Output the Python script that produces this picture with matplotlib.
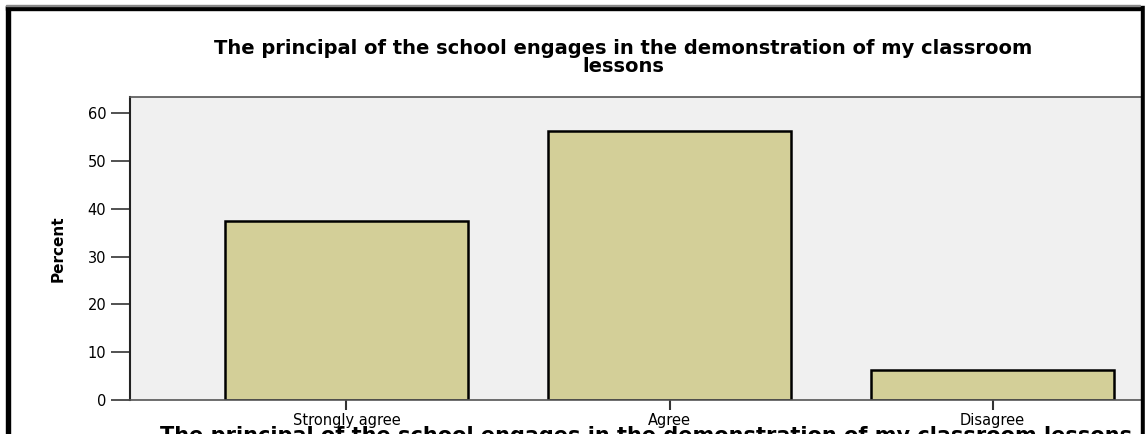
import matplotlib.pyplot as plt
from matplotlib.patches import Rectangle

# data
categories = ['Strongly agree', 'Agree', 'Disagree']
percent = [37.5, 56.25, 6.25]
yticks = [0, 10, 20, 30, 40, 50, 60]
title = 'The principal of the school engages in the demonstration of my classroom lessons'

W, H = 1146, 434
fig = plt.figure(figsize=(W / 100, H / 100), dpi=100)
fig.patch.set_facecolor('white')

# axes runs past the right edge of the figure (cropped like the original)
ax = fig.add_axes([130 / W, (H - 400) / H, 1079 / W, 303 / H])
ax.set_facecolor('#f0f0f0')
x = list(range(len(categories)))
ax.bar(x, percent, width=0.752, color='#d3cf98', edgecolor='black', linewidth=1.8, zorder=2)
ax.set_xlim(-0.67, 2.67)
ax.set_ylim(0, 63.4)
ax.set_yticks(yticks)
ax.set_xticks(x)
ax.set_xticklabels(categories, family='DejaVu Sans', fontsize=10.5)
ax.set_yticklabels([str(v) for v in yticks], family='DejaVu Sans', fontsize=10.5)
ax.tick_params(axis='y', length=14, width=1.2, color='#333333', pad=3)
ax.tick_params(axis='x', length=7, width=1.5, color='#333333', pad=2)
for s in ['top', 'bottom', 'right']:
    ax.spines[s].set_color('#555555')
    ax.spines[s].set_linewidth(1.2)
ax.spines['left'].set_color('#222222')
ax.spines['left'].set_linewidth(1.5)

ax.set_ylabel('Percent', family=['Liberation Sans Narrow', 'DejaVu Sans'], fontweight='bold',
              fontsize=11, labelpad=16)

# title (two lines, as in the cropped original)
fig.text(623 / W, 1 - 39 / H, title.replace(' lessons', '\nlessons'), ha='center', va='top',
         family='DejaVu Sans', fontweight='bold', fontsize=14, linespacing=0.95)

# x axis label, mostly cut off at the bottom
fig.text(160 / W, 1 - 426 / H, title, ha='left', va='top',
         family='DejaVu Sans', fontweight='bold', fontsize=15)

# black frame of the screenshot
tr = fig.transFigure
fig.add_artist(Rectangle((6 / W, 0), 4 / W, 1 - 6 / H, transform=tr, color='black', zorder=10))
fig.add_artist(Rectangle((6 / W, 1 - 10 / H), (1140 - 6) / W, 4 / H, transform=tr, color='black', zorder=10))
fig.add_artist(Rectangle((6 / W, 1 - 6 / H), (1140 - 6) / W, 1 / H, transform=tr, color='#888888', zorder=10))
fig.add_artist(Rectangle((1141 / W, 0), 4 / W, 1 - 6 / H, transform=tr, color='black', zorder=10))
fig.add_artist(Rectangle((1145 / W, 0), 1 / W, 1, transform=tr, color='white', zorder=10))

fig.savefig('out.png', dpi=100)
